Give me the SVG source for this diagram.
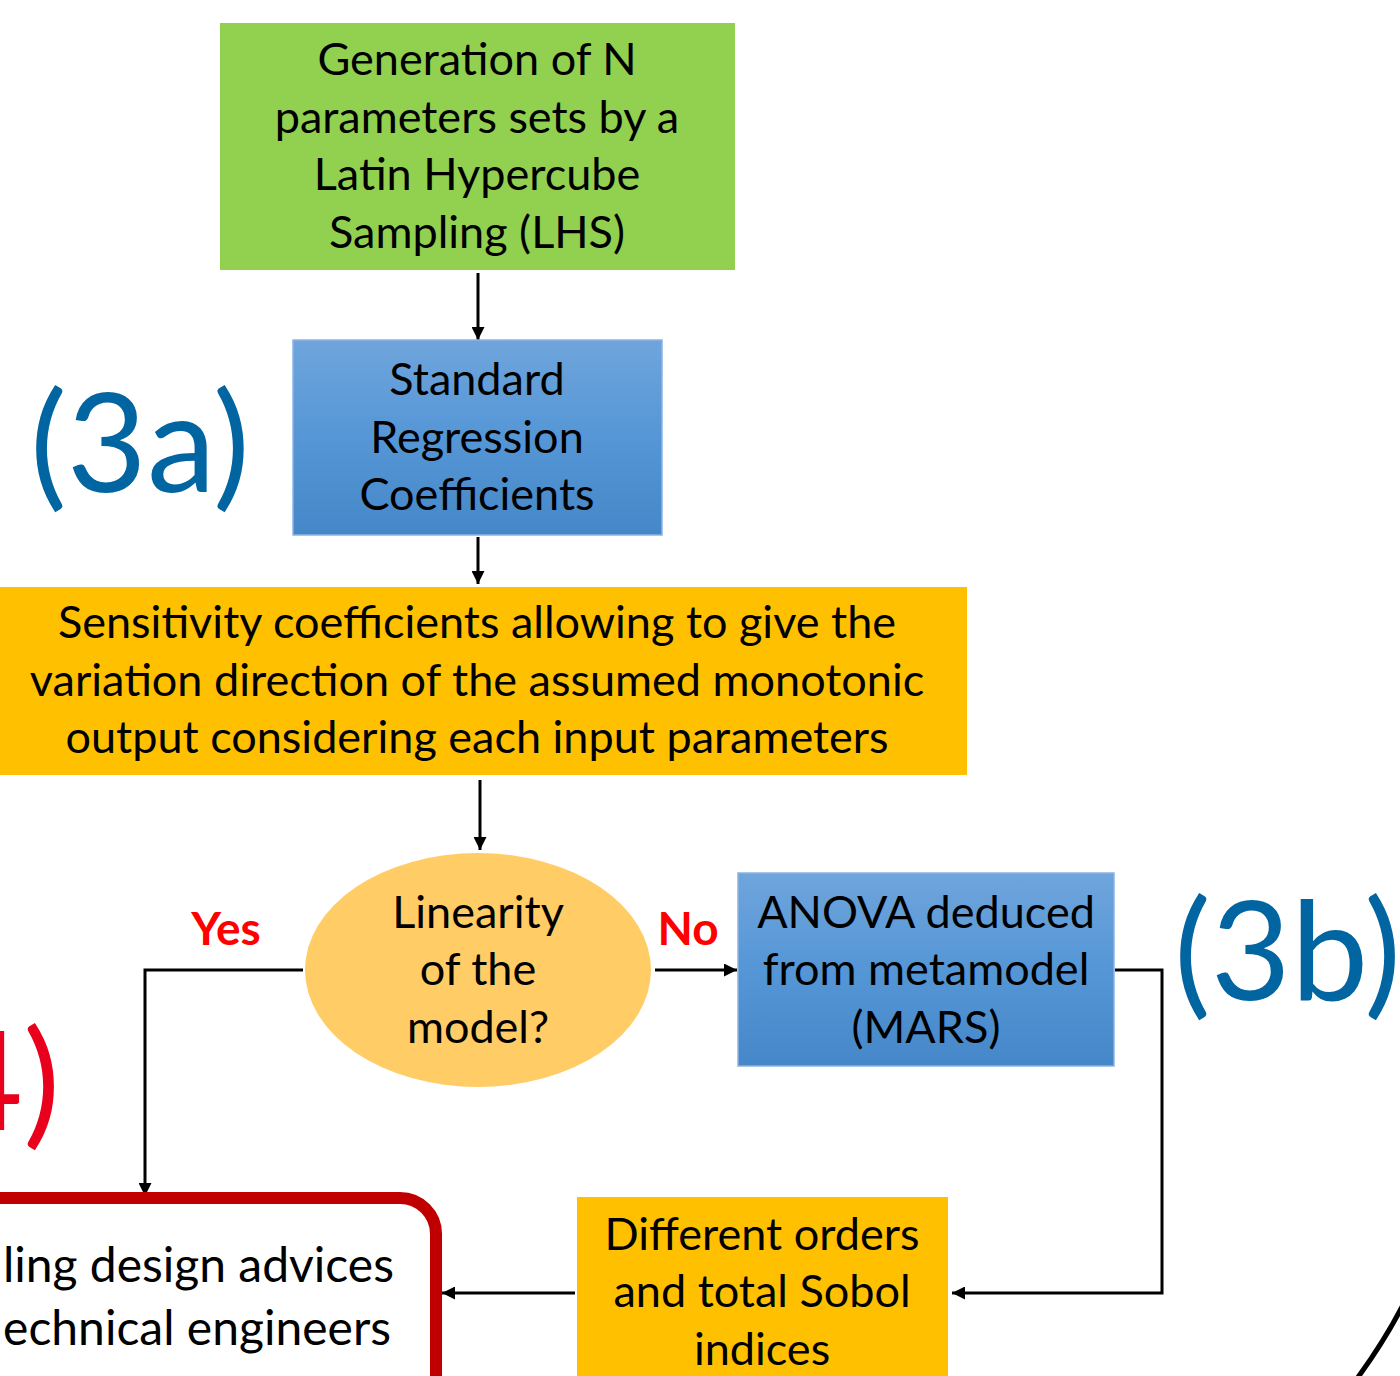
<svg xmlns="http://www.w3.org/2000/svg" width="1400" height="1376" viewBox="0 0 1400 1376">
<defs>
<linearGradient id="blueGrad" x1="0" y1="0" x2="0" y2="1">
<stop offset="0" stop-color="#6FA5DC"/>
<stop offset="0.5" stop-color="#5596D6"/>
<stop offset="1" stop-color="#4587C8"/>
</linearGradient>
<marker id="ah" viewBox="0 0 12 12" refX="12" refY="6" markerWidth="13" markerHeight="13" markerUnits="userSpaceOnUse" orient="auto">
<path d="M0,0 L12,6 L0,12 Z" fill="#000"/>
</marker>
</defs>
<style>
.t{font-family:Lato,"Open Sans","Liberation Sans",sans-serif;font-size:45px;fill:#000;text-anchor:middle}
.big{font-family:Lato,"Open Sans","Liberation Sans",sans-serif;font-size:138px}
.lbl{font-family:Lato,"Open Sans","Liberation Sans",sans-serif;font-size:46px;font-weight:bold;fill:#FF0000;text-anchor:middle}
.conn{fill:none;stroke:#000;stroke-width:3;marker-end:url(#ah)}
.blue{fill:url(#blueGrad);stroke:#8DB3E2;stroke-width:1.5}
.orange{fill:#FFC000}
</style>
<rect width="1400" height="1376" fill="#fff"/>

<g id="connectors">
<path class="conn" d="M478,273 V340"/>
<path class="conn" d="M478,537 V584"/>
<path class="conn" d="M480,780 V850"/>
<path class="conn" d="M303,970 H145 V1196"/>
<path class="conn" d="M655,970 H737"/>
<path class="conn" d="M1115,970 H1162 V1293 H952"/>
<path class="conn" d="M575,1293 H442"/>
</g>

<g id="n1">
<rect x="220" y="23" width="515" height="247" fill="#92D050"/>
<text class="t" x="477" y="75">Generation of N</text>
<text class="t" x="477" y="133">parameters sets by a</text>
<text class="t" x="477" y="190">Latin Hypercube</text>
<text class="t" x="477" y="248">Sampling (LHS)</text>
</g>

<g id="n2">
<rect class="blue" x="293" y="340" width="369" height="195"/>
<text class="t" x="477" y="395">Standard</text>
<text class="t" x="477" y="453">Regression</text>
<text class="t" x="477" y="510">Coefficients</text>
</g>

<g id="n3">
<rect class="orange" x="0" y="587" width="967" height="188"/>
<text class="t" x="477" y="638">Sensitivity coefficients allowing to give the</text>
<text class="t" x="477" y="696">variation direction of the assumed monotonic</text>
<text class="t" x="477" y="753">output considering each input parameters</text>
</g>

<g id="n4">
<ellipse cx="478" cy="970" rx="173" ry="117" fill="#FFCC66"/>
<text class="t" x="478" y="928">Linearity</text>
<text class="t" x="478" y="985">of the</text>
<text class="t" x="478" y="1043">model?</text>
</g>

<g id="n5">
<rect class="blue" x="738" y="873" width="376" height="193"/>
<text class="t" x="926" y="928">ANOVA deduced</text>
<text class="t" x="926" y="985">from metamodel</text>
<text class="t" x="926" y="1043">(MARS)</text>
</g>

<g id="n6">
<rect class="orange" x="577" y="1197" width="371" height="190"/>
<text class="t" x="762" y="1250">Different orders</text>
<text class="t" x="762" y="1307">and total Sobol</text>
<text class="t" x="762" y="1365">indices</text>
</g>

<g id="n7">
<rect x="-200" y="1198" width="636" height="260" rx="36" ry="36" fill="none" stroke="#C00000" stroke-width="12"/>
<text class="t" x="394" y="1282" style="text-anchor:end;font-size:48px">ling design advices</text>
<text class="t" x="391" y="1345" style="text-anchor:end;font-size:48px">echnical engineers</text>
</g>

<g id="labels">
<text class="lbl" x="226" y="945">Yes</text>
<text class="lbl" x="688" y="945">No</text>
<text class="big" x="30" y="492" fill="#0065A0">(3a)</text>
<text class="big" x="1174" y="1000" fill="#0065A0">(3b)</text>
<text class="big" x="60" y="1130" fill="#E8001C" style="text-anchor:end">4)</text>
</g>

<path d="M1356,1380 Q1384,1342 1403,1305" fill="none" stroke="#000" stroke-width="5"/>
</svg>
